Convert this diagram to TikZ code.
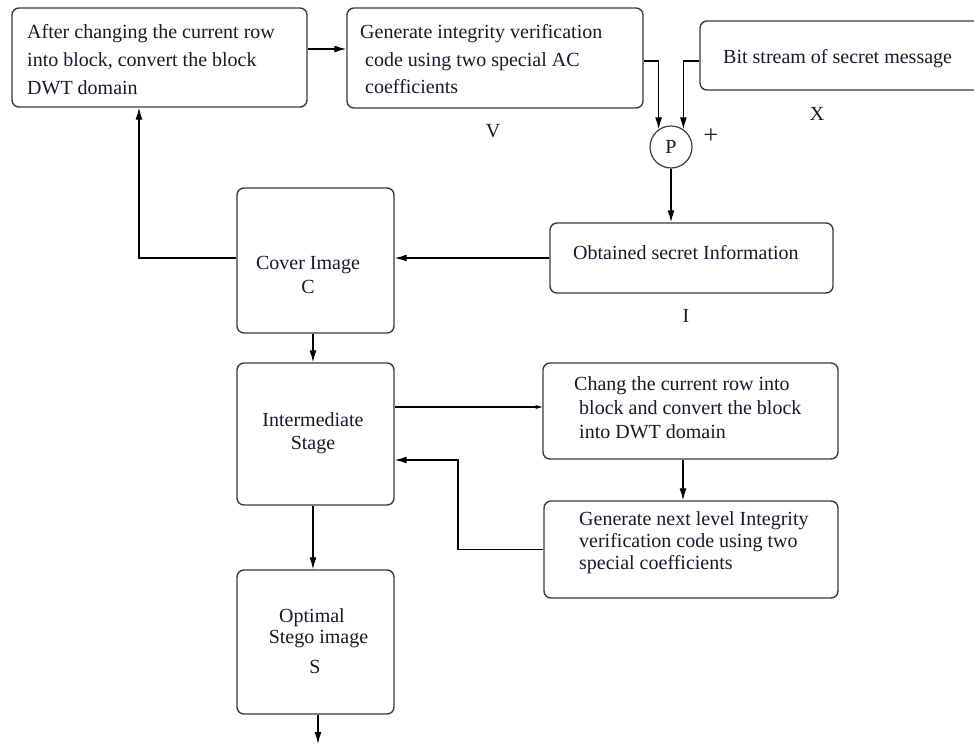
\documentclass[tikz,border=0pt]{standalone}
\usepackage{fontspec}
\newfontfamily\serifface{LiberationSerif}[Extension=.ttf, UprightFont=*-Regular]
\usetikzlibrary{arrows.meta,calc}

\definecolor{ink}{RGB}{25,25,45}
\definecolor{edge}{RGB}{60,60,60}

\tikzset{
  box/.style={draw=edge, line width=1.4pt, rounded corners=7pt, inner sep=0pt},
  txt/.style={text=ink, inner sep=0pt, font=\serifface\fontsize{20}{24}\selectfont},
  conn/.style={draw=black, line width=1.3pt, -{Latex[length=12pt,width=7pt]}},
  thinconn/.style={draw=black, line width=1.1pt, -{Stealth[length=7pt,width=4pt]}}
}

\begin{document}
\begin{tikzpicture}[x=1pt,y=-1pt]
\useasboundingbox (0,0) rectangle (974,745);
\clip (0,0) rectangle (974,745);
\fill[white] (0,0) rectangle (974,745);

% frames of the blocks
\node[box, minimum width=295pt, minimum height=99pt]  (A) at (159.5,57.5) {};
\node[box, minimum width=296pt, minimum height=100pt] (B) at (495,58) {};
\node[box, minimum width=290pt, minimum height=69pt]  (X) at (845,55.5) {};
\node[box, minimum width=283pt, minimum height=70pt]  (O) at (691.5,258) {};
\node[box, minimum width=157pt, minimum height=145pt] (C) at (315.5,260.5) {};
\node[box, minimum width=157pt, minimum height=142pt] (I) at (315.5,434) {};
\node[box, minimum width=157pt, minimum height=144pt] (S) at (315.5,642) {};
\node[box, minimum width=295pt, minimum height=96pt]  (D) at (690.5,411) {};
\node[box, minimum width=294pt, minimum height=97pt]  (G) at (691,549.5) {};
\node[draw=edge, line width=1.2pt, circle, minimum size=42pt, inner sep=0pt,
      text=ink, font=\serifface\fontsize{20}{22}\selectfont] (P) at (671,147) {P};

% texts of the blocks
\node[txt, anchor=base west] (At) at (27,38) {\begin{tabular}[t]{@{}l@{}}After changing the current row\\[4pt] into block, convert the block\\[4pt] DWT domain\end{tabular}};
\node[txt, anchor=base west] (Bt) at (360,38) {\begin{tabular}[t]{@{}l@{}}Generate integrity verification\\[4pt] \hspace*{5pt}code using two special AC\\[3pt] \hspace*{5pt}coefficients\end{tabular}};
\node[txt, anchor=base west] (Xt) at (723,63) {Bit stream of secret message};
\node[txt, anchor=base west] (Ot) at (573,259) {Obtained secret Information};
\node[txt, anchor=base] (Ct) at (308,269) {\begin{tabular}[t]{@{}c@{}}Cover Image\\ C\end{tabular}};
\node[txt, anchor=base] (It) at (313,426) {\begin{tabular}[t]{@{}c@{}}Intermediate\\[-1pt] Stage\end{tabular}};
\node[txt, anchor=base] (St) at (315,622) {\begin{tabular}[t]{@{}c@{}}Optimal\hspace*{6pt}\\[-3pt] \hspace*{7pt}Stego image\\[6pt] S\end{tabular}};
\node[txt, anchor=base west] (Dt) at (574,390) {\begin{tabular}[t]{@{}l@{}}Chang the current row into\\ \hspace*{5pt}block and convert the block\\ \hspace*{5pt}into DWT domain\end{tabular}};
\node[txt, anchor=base west] (Gt) at (579,525) {\begin{tabular}[t]{@{}l@{}}Generate next level Integrity\\[-2pt] verification code using two\\[-2pt] special coefficients\end{tabular}};

% signal labels
\node[txt, anchor=base] (Vl) at (493,137) {V};
\node[txt, anchor=base] (Xl) at (817,120) {X};
\node[txt, anchor=base] (Il) at (686,322) {I};
\node[txt, font=\serifface\fontsize{26}{28}\selectfont] (plus) at (711,136) {+};

% connectors
\draw[conn] ([yshift=8.5pt]A.east) -- ([yshift=8.5pt]A.east -| B.west);
\draw[conn] ([yshift=-3pt]B.east) -| (P.125);
\draw[conn] ([yshift=-5.5pt]X.west) -| (P.55);
\draw[conn] (P.south) -- (P.south |- O.north);
\draw[conn] (O.west) -- (O.west -| C.east);
\coordinate (up) at (139,0);
\draw[conn] (C.west |- O.west) -| (up |- A.south);
\draw[conn] ([xshift=-2.5pt]C.south) -- ([xshift=-2.5pt]C.south |- I.north);
\coordinate (dw) at ([yshift=4pt]D.west);
\draw[thinconn] (dw -| I.east) -- (dw);
\draw[conn] ([xshift=-7.5pt]D.south) -- ([xshift=-7.5pt]D.south |- G.north);
\coordinate (fb) at (458,460);
\draw[conn] (G.west) -| (fb) -- (fb -| I.east);
\draw[conn] ([xshift=-2.5pt]I.south) -- ([xshift=-2.5pt]I.south |- S.north);
\coordinate (out) at (318,744);
\draw[conn] (S.south -| out) -- (out);
\end{tikzpicture}
\end{document}
